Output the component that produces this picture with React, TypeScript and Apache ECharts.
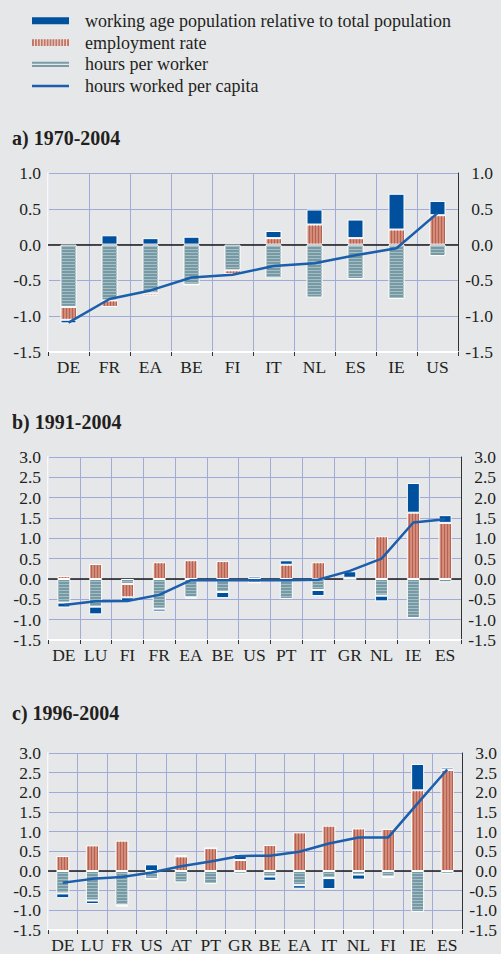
import React, { useEffect, useRef } from 'react';
import * as echarts from 'echarts';

const NAME_WAP = 'working age population relative to total population';
const NAME_EMP = 'employment rate';
const NAME_HPW = 'hours per worker';
const NAME_LINE = 'hours worked per capita';
const legendNames = [NAME_WAP, NAME_EMP, NAME_HPW, NAME_LINE];

const titles = ['a) 1970-2004', 'b) 1991-2004', 'c) 1996-2004'];

// Panel a) 1970-2004
const catsA = ['DE', 'FR', 'EA', 'BE', 'FI', 'IT', 'NL', 'ES', 'IE', 'US'];
const hpwA = [-0.87, -0.78, -0.68, -0.56, -0.36, -0.47, -0.74, -0.48, -0.76, -0.16];
const empA = [-0.18, -0.09, -0.03, 0, -0.05, 0.09, 0.28, 0.09, 0.21, 0.41];
const wapA = [-0.05, 0.13, 0.09, 0.11, 0, 0.1, 0.21, 0.26, 0.5, 0.2];
const lineA = [-1.09, -0.76, -0.64, -0.46, -0.42, -0.3, -0.26, -0.15, -0.05, 0.44];

// Panel b) 1991-2004
const catsB = ['DE', 'LU', 'FI', 'FR', 'EA', 'BE', 'US', 'PT', 'IT', 'GR', 'NL', 'IE', 'ES'];
const hpwB = [-0.58, -0.68, -0.12, -0.73, -0.45, -0.32, -0.09, -0.49, -0.27, 0, -0.41, -0.96, -0.08];
const empB = [0.07, 0.37, -0.33, 0.41, 0.46, 0.44, 0, 0.35, 0.41, 0.03, 1.05, 1.63, 1.38];
const wapB = [-0.12, -0.19, -0.1, -0.07, -0.03, -0.15, 0.06, 0.11, -0.15, 0.16, -0.14, 0.73, 0.19];
const lineB = [-0.64, -0.55, -0.54, -0.39, -0.03, -0.03, -0.03, -0.03, -0.02, 0.2, 0.5, 1.39, 1.47];

// Panel c) 1996-2004
const catsC = ['DE', 'LU', 'FR', 'US', 'AT', 'PT', 'GR', 'BE', 'EA', 'IT', 'NL', 'FI', 'IE', 'ES'];
const hpwC = [-0.57, -0.75, -0.87, -0.2, -0.29, -0.33, -0.07, -0.14, -0.36, -0.18, -0.09, -0.14, -1.04, -0.07];
const empC = [0.38, 0.65, 0.77, 0, 0.37, 0.58, 0.28, 0.66, 0.98, 1.15, 1.08, 1.07, 2.05, 2.57];
const wapC = [-0.12, -0.09, -0.03, 0.17, 0.03, 0, 0.15, -0.11, -0.09, -0.28, -0.13, -0.04, 0.67, 0.06];
const lineC = [-0.3, -0.2, -0.15, -0.04, 0.12, 0.24, 0.38, 0.39, 0.49, 0.7, 0.85, 0.85, 1.72, 2.58];

const yMins = [-1.5, -1.5, -1.5];
const yMaxs = [1.0, 3.0, 3.0];

const BG = '#e6e7e9';
const GRID = '#a2aad8';
const TEXT = '#231f20';
const FONT = '"Liberation Serif", "Times New Roman", serif';
const C_WAP = '#00509e';
const C_LINE = '#1b5eab';
const C_EMP = '#d28c7c';
const C_EMP_STRIPE = '#b9614f';
const C_HPW = '#7799a3';
const C_HPW_STRIPE = '#a4bec5';

// legend icons imitating the stripe textures
function combPath(): string {
  let d = '';
  for (let x = 0; x < 37; x += 3) d += `M${x},0H${x + 2}V7H${x}Z`;
  return 'path://' + d;
}
const EMP_ICON = combPath();
const HPW_ICON = 'path://M0,0H37V0.01H0Z M0,1H37V3H0Z M0,4.3H37V6.3H0Z M0,6.99H37V7H0Z';
const LINE_ICON = 'path://M0,0H37V2.5H0Z';

function stackSegments(comps: number[][]): number[][][] {
  const out: number[][][] = comps.map(() => []);
  const n = comps[0].length;
  for (let i = 0; i < n; i++) {
    let pos = 0;
    let neg = 0;
    comps.forEach((arr, k) => {
      const v = arr[i];
      if (v === 0) return;
      if (v > 0) {
        out[k].push([i, pos, pos + v]);
        pos += v;
      } else {
        out[k].push([i, neg, neg + v]);
        neg += v;
      }
    });
  }
  return out;
}

function makeStripeRenderer(bw: number, kind: 'h' | 'v') {
  return (params: any, api: any) => {
    const c = api.value(0);
    const a = api.value(1);
    const b = api.value(2);
    const p1 = api.coord([c, a]);
    const p2 = api.coord([c, b]);
    const top = Math.min(p1[1], p2[1]);
    const bot = Math.max(p1[1], p2[1]);
    const left = Math.round(p1[0] - bw / 2);
    const children: any[] = [];
    if (kind === 'h') {
      for (let y = Math.floor(top) + 2; y < bot - 1.5; y += 3) {
        children.push({
          type: 'rect',
          shape: { x: left + 1, y, width: bw - 2, height: 1 },
          style: { fill: C_HPW_STRIPE },
        });
      }
    } else if (bot - top > 2) {
      for (let x = left + 2; x < left + bw - 1.5; x += 3) {
        children.push({
          type: 'rect',
          shape: { x, y: top + 1, width: 1, height: bot - top - 2 },
          style: { fill: C_EMP_STRIPE },
        });
      }
    }
    return { type: 'group', children, silent: true };
  };
}

export default function App() {
  const ref = useRef<HTMLDivElement>(null);

  useEffect(() => {
    document.body.style.margin = '0';
    document.body.style.background = BG;
    const chart = echarts.init(ref.current!, null, { renderer: 'svg' });

    const panels = [
      { cats: catsA, hpw: hpwA, emp: empA, wap: wapA, line: lineA },
      { cats: catsB, hpw: hpwB, emp: empB, wap: wapB, line: lineB },
      { cats: catsC, hpw: hpwC, emp: empC, wap: wapC, line: lineC },
    ];
    const grids = [
      { left: 48, top: 173, width: 410, height: 179 },
      { left: 48, top: 457, width: 413, height: 183 },
      { left: 48, top: 753, width: 414, height: 179 },
    ];
    const titleCenters = [137.5, 421.5, 713];
    const barWidths = [16, 13, 13];

    const xAxis: any[] = [];
    const yAxis: any[] = [];
    const series: any[] = [];

    panels.forEach((p, i) => {
      xAxis.push({
        type: 'category',
        gridIndex: i,
        data: p.cats,
        axisLine: { show: true, onZero: false, lineStyle: { color: '#ffffff', width: 2 } },
        axisTick: { show: true, length: 4, lineStyle: { color: '#333333', width: 1 } },
        splitLine: { show: true, lineStyle: { color: GRID, width: 1 } },
        axisLabel: { interval: 0, margin: 6, fontSize: 17.5, color: TEXT, fontFamily: FONT },
      });
      const yCommon = {
        type: 'value',
        gridIndex: i,
        min: yMins[i],
        max: yMaxs[i],
        interval: 0.5,
      };
      yAxis.push({
        ...yCommon,
        position: 'left',
        axisLine: { show: true, lineStyle: { color: '#ffffff', width: 1.5 } },
        axisTick: { show: false },
        splitLine: { show: true, lineStyle: { color: GRID, width: 1 } },
        axisLabel: {
          margin: 7,
          fontSize: 17.5,
          color: TEXT,
          fontFamily: FONT,
          formatter: (v: number) => v.toFixed(1),
        },
      });
      yAxis.push({
        ...yCommon,
        position: 'right',
        axisLine: { show: true, lineStyle: { color: '#333333', width: 1 } },
        axisTick: { show: false },
        splitLine: { show: false },
        axisLabel: {
          margin: 35,
          align: 'right',
          fontSize: 17.5,
          color: TEXT,
          fontFamily: FONT,
          formatter: (v: number) => v.toFixed(1),
        },
      });
      const stack = 'stack' + i;
      const bw = barWidths[i];
      series.push({
        name: NAME_HPW,
        type: 'bar',
        xAxisIndex: i,
        yAxisIndex: 2 * i,
        stack,
        barWidth: bw,
        data: p.hpw,
        itemStyle: { color: C_HPW, borderColor: '#ffffff', borderWidth: 1 },
        markLine: {
          silent: true,
          z: 1,
          symbol: ['none', 'none'],
          label: { show: false },
          lineStyle: { color: '#1a1a1a', width: 1.5, type: 'solid' },
          data: [{ yAxis: 0 }],
        },
      });
      series.push({
        name: NAME_EMP,
        type: 'bar',
        xAxisIndex: i,
        yAxisIndex: 2 * i,
        stack,
        barWidth: bw,
        data: p.emp,
        itemStyle: { color: C_EMP, borderColor: '#ffffff', borderWidth: 1 },
      });
      series.push({
        name: NAME_WAP,
        type: 'bar',
        xAxisIndex: i,
        yAxisIndex: 2 * i,
        stack,
        barWidth: bw,
        data: p.wap,
        itemStyle: { color: C_WAP, borderColor: '#ffffff', borderWidth: 1 },
      });
      const segs = stackSegments([p.hpw, p.emp, p.wap]);
      series.push({
        type: 'custom',
        xAxisIndex: i,
        yAxisIndex: 2 * i,
        z: 3,
        silent: true,
        encode: { x: 0, y: [1, 2] },
        data: segs[0],
        renderItem: makeStripeRenderer(bw, 'h'),
      });
      series.push({
        type: 'custom',
        xAxisIndex: i,
        yAxisIndex: 2 * i,
        z: 3,
        silent: true,
        encode: { x: 0, y: [1, 2] },
        data: segs[1],
        renderItem: makeStripeRenderer(bw, 'v'),
      });
      series.push({
        name: NAME_LINE,
        type: 'line',
        xAxisIndex: i,
        yAxisIndex: 2 * i,
        data: p.line,
        symbol: 'none',
        z: 5,
        itemStyle: { color: C_LINE },
        lineStyle: { color: C_LINE, width: 2.5 },
      });
    });

    const option: any = {
      animation: false,
      backgroundColor: BG,
      textStyle: { fontFamily: FONT },
      title: titles.map((t, i) => ({
        text: t,
        left: 12,
        top: titleCenters[i] - 10,
        padding: 0,
        textStyle: {
          fontFamily: FONT,
          fontWeight: 'bold',
          fontSize: 20,
          lineHeight: 20,
          color: TEXT,
        },
      })),
      legend: {
        orient: 'vertical',
        left: 32,
        top: 10,
        padding: 0,
        itemGap: 0,
        itemWidth: 37,
        itemHeight: 7,
        data: [
          { name: NAME_WAP, icon: 'rect' },
          { name: NAME_EMP, icon: EMP_ICON, itemStyle: { color: '#c77463' } },
          { name: NAME_HPW, icon: HPW_ICON, itemStyle: { color: '#7a9ca6' } },
          { name: NAME_LINE, icon: LINE_ICON },
        ],
        itemStyle: { borderWidth: 0 },
        textStyle: {
          fontFamily: FONT,
          fontSize: 18,
          lineHeight: 21.7,
          color: TEXT,
          padding: [0, 0, 0, 11],
        },
        selectedMode: false,
      },
      grid: grids,
      xAxis,
      yAxis,
      series,
    };

    chart.setOption(option);
    return () => chart.dispose();
  }, []);

  return <div ref={ref} style={{ width: 501, height: 954 }} />;
}
